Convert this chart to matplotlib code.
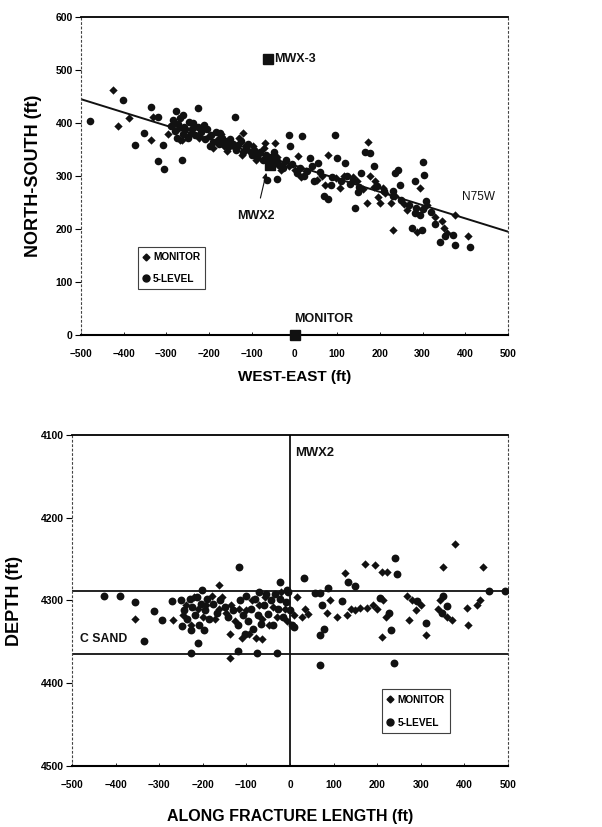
import matplotlib.pyplot as plt
from matplotlib.lines import Line2D

plt.rcParams['font.family'] = ['Liberation Sans', 'DejaVu Sans']

INK = '#111111'

# ---- top panel: plan view (ft) ----
plan_monitor_x = [-424, -413, -387, -331, -335, -268, -120, -69, -45, 9, 79, 107, 138, 169, 173, 185,
                  200, 208, 227, 231, 263, 286, 294, 349, 376, 407, 356, 212, 188,
                  -296, -282, -270, -264, -254, -244, -236, -224, -214, -200, -192, -180, -172, -166,
                  -158, -148, -140, -130, -124, -116, -106, -98, -90, -84, -72, -64, -56, -50, -40,
                  -32, -24, -12, 0, 14, 26, 52, 64, 72, 96, 116, 146, 160, 176, 196, 236, 256, 310,
                  330, 345]
plan_monitor_y = [462, 395, 409, 412, 368, 368, 381, 362, 363, 337, 340, 277, 299, 249, 365, 280,
                  249, 277, 250, 198, 236, 195, 277, 202, 227, 186, 192, 268, 290,
                  380, 398, 390, 368, 388, 380, 395, 372, 386, 375, 352, 370, 380, 356,
                  348, 362, 352, 372, 340, 356, 348, 356, 330, 342, 352, 332, 318, 328, 335,
                  312, 325, 318, 312, 298, 310, 292, 300, 284, 296, 300, 290, 276, 300, 260, 262, 248, 246,
                  222, 215]

plan_5level_x = [-480, -401, -337, -352, -374, -320, -320, -307, -305, -278, -264, -262, -237, -225,
                 -213, -198, -174, -139, -14, -11, 17, 95, 99, 85, 78, 68, 56, 36, 29, 118, 142, 149,
                 165, 177, 185, 231, 235, 243, 247, 282, 300, 303, 309, 282, 294, 298, 274, 329, 352,
                 372, 376, 411, 341, -65, -42,
                 -290, -285, -280, -276, -272, -268, -262, -258, -250, -246, -240, -232, -226, -218,
                 -210, -204, -196, -190, -184, -176, -170, -162, -156, -150, -144, -138, -132, -126,
                 -120, -114, -108, -100, -94, -88, -80, -74, -66, -60, -54, -48, -42, -36, -28, -20,
                 -5, 5, 12, 22, 40, 46, 60, 88, 110, 124, 130, 138, 150, 155, 192, 210, 230, 250, 268,
                 285, 300, 320]
plan_5level_y = [403, 444, 431, 381, 358, 411, 329, 358, 313, 423, 331, 415, 400, 428,
                 397, 356, 381, 411, 378, 356, 375, 378, 334, 283, 256, 263, 324, 334, 309, 324, 239, 269,
                 346, 343, 318, 271, 305, 312, 283, 290, 327, 302, 252, 230, 227, 198, 202, 210, 186,
                 189, 170, 166, 176, 293, 295,
                 395, 405, 385, 372, 398, 410, 380, 393, 372, 402, 388, 377, 392, 383,
                 370, 389, 378, 365, 384, 360, 372, 366, 355, 370, 361, 349, 358, 366,
                 345, 352, 360, 340, 350, 336, 346, 330, 340, 325, 335, 345, 328, 320, 315, 330,
                 322, 305, 315, 300, 318, 290, 308, 298, 290, 300, 285, 293, 280, 305, 282, 272, 262, 255, 245,
                 240, 238, 232]

trend_x = [-500, 500]
trend_y = [445, 195]

# ---- bottom panel: depth section ----
sec_monitor_x = [-356, -269, -164, -137, -137, -65, 126, 172, 195, 210, 222, 210, 268, 272, 312, 352,
                 379, 371, 405, 409, 443, 428, 436, 130, 161, 176, 107, 42,
                 -246, -238, -226, -220, -210, -200, -192, -180, -172, -164, -156, -146, -136, -126,
                 -118, -110, -102, -94, -88, -78, -72, -64, -58, -48, -38, -30, -20, -12, -6, 10, 16,
                 28, 34, 85, 92, 140, 150, 190, 200, 214, 220, 280, 290, 300, 340, 345, 360]
sec_monitor_d = [4322, 4324, 4281, 4340, 4369, 4346, 4267, 4256, 4257, 4265, 4266, 4344, 4295, 4324, 4342, 4259,
                 4232, 4324, 4309, 4330, 4259, 4305, 4299, 4318, 4309, 4309, 4320, 4316,
                 4318, 4305, 4330, 4296, 4310, 4320, 4305, 4295, 4322, 4310, 4296, 4315, 4305, 4325,
                 4310, 4345, 4312, 4340, 4300, 4345, 4306, 4322, 4296, 4330, 4308, 4320, 4290, 4310, 4325, 4318, 4296,
                 4320, 4310, 4315, 4300, 4310, 4312, 4305, 4310, 4300, 4320, 4300, 4312, 4305, 4310, 4300, 4320]

sec_5level_x = [-427, -389, -356, -336, -313, -294, -271, -248, -227, -212, -227, -202, -198, -118, -120,
                -76, -30, -23, -6, 8, 31, 58, 69, 73, 69, 78, 69, 88, 119, 134, 149, 207, 226, 231, 241,
                245, 239, 291, 311, 352, 359, 348, 457, 493,
                -250, -242, -236, -230, -224, -218, -214, -208, -204, -196, -190, -186, -176, -168,
                -160, -150, -142, -130, -120, -114, -108, -104, -100, -96, -90, -84, -80, -74, -70,
                -66, -60, -54, -50, -44, -40, -34, -28, -22, -16, -10, -4, 0, 4]
sec_5level_d = [4295, 4295, 4302, 4349, 4313, 4324, 4301, 4331, 4363, 4351, 4336, 4287, 4336, 4259, 4361,
                4363, 4363, 4278, 4287, 4332, 4273, 4291, 4291, 4305, 4342, 4334, 4378, 4285, 4301, 4278, 4283,
                4297, 4315, 4336, 4249, 4268, 4376, 4301, 4327, 4295, 4307, 4315, 4289, 4289,
                4300, 4312, 4322, 4298, 4308, 4318, 4296, 4330, 4304, 4312, 4298, 4322, 4304, 4315,
                4300, 4308, 4320, 4312, 4330, 4300, 4318, 4340, 4294, 4325, 4310, 4335, 4298, 4318, 4290,
                4328, 4305, 4292, 4316, 4300, 4330, 4292, 4310, 4298, 4320, 4302, 4290, 4312, 4330]

c_sand_top = 4289
c_sand_base = 4365

xticks = [-500, -400, -300, -200, -100, 0, 100, 200, 300, 400, 500]

fig = plt.figure(figsize=(6.02, 8.27), dpi=100)
ax1 = fig.add_axes([0.1346, 0.5949, 0.7093, 0.3845])
ax2 = fig.add_axes([0.1196, 0.0738, 0.7243, 0.4002])


def style_axes(ax):
    ax.spines['top'].set_linewidth(1.3)
    ax.spines['bottom'].set_linewidth(1.5)
    for s in ('left', 'right'):
        ax.spines[s].set_linestyle((0, (1.5, 2.5)))
        ax.spines[s].set_linewidth(0.8)
        ax.spines[s].set_color('#444444')
    ax.tick_params(axis='y', direction='out', length=4, width=0.8, pad=2, labelsize=7.5)
    ax.tick_params(axis='x', direction='in', length=2, width=0.6, pad=10, labelsize=7.2)
    ax.set_xticks(xticks)
    ax.set_xlim(-500, 500)
    for lab in ax.get_xticklabels() + ax.get_yticklabels():
        lab.set_fontweight('bold')


# ---- top ----
ax1.plot(trend_x, trend_y, color=INK, lw=1.4, zorder=2)
ax1.scatter(plan_5level_x, plan_5level_y, s=30, marker='o', color=INK, lw=0, zorder=3)
ax1.scatter(plan_monitor_x, plan_monitor_y, s=18, marker='D', color=INK, lw=0, zorder=3)
ax1.plot([-61], [521], 's', color=INK, ms=6.5)
ax1.plot([-57], [321], 's', color=INK, ms=6.5, zorder=4)
ax1.plot([0], [0], 's', color=INK, ms=7, clip_on=False, zorder=5)
ax1.text(-48, 521, 'MWX-3', fontsize=9, fontweight='bold', va='center', ha='left', color=INK)
ax1.text(67, 30, 'MONITOR', fontsize=9, fontweight='bold', va='center', ha='center', color=INK)
ax1.text(432, 261, 'N75W', fontsize=8.5, va='center', ha='center', color=INK)
ax1.annotate('MWX2', xy=(-66, 306), xytext=(-90, 224), fontsize=9, fontweight='bold',
             ha='center', va='center', color=INK,
             arrowprops=dict(arrowstyle='-|>', color=INK, lw=0.8, shrinkA=7, shrinkB=0,
                             mutation_scale=8))
ax1.set_ylim(0, 600)
ax1.set_yticks([0, 100, 200, 300, 400, 500, 600])
style_axes(ax1)
ax1.set_xlabel('WEST-EAST (ft)', fontsize=11, fontweight='bold', labelpad=8)
ax1.set_ylabel('NORTH-SOUTH (ft)', fontsize=13, fontweight='bold', labelpad=10)

handles = [Line2D([], [], marker='D', ls='', color=INK, ms=3.5),
           Line2D([], [], marker='o', ls='', color=INK, ms=5)]
leg1 = ax1.legend(handles, ['MONITOR', '5-LEVEL'], loc='lower left', bbox_to_anchor=(0.121, 0.13),
                  fancybox=False, frameon=True, handlelength=0.6, handletextpad=0.4,
                  labelspacing=1.1, borderpad=0.5, prop={'size': 7.3, 'weight': 'bold'})
leg1.get_frame().set_edgecolor(INK)
leg1.get_frame().set_linewidth(0.8)

# ---- bottom ----
ax2.axhline(c_sand_top, color=INK, lw=1.3, zorder=2)
ax2.axhline(c_sand_base, color=INK, lw=1.3, zorder=2)
ax2.axvline(0, color=INK, lw=1.3, zorder=2)
ax2.scatter(sec_5level_x, sec_5level_d, s=32, marker='o', color=INK, lw=0, zorder=3)
ax2.scatter(sec_monitor_x, sec_monitor_d, s=18, marker='D', color=INK, lw=0, zorder=3)
ax2.text(57, 4122, 'MWX2', fontsize=9.4, fontweight='bold', va='center', ha='center', color=INK)
ax2.text(-427, 4347, 'C SAND', fontsize=8.8, fontweight='bold', va='center', ha='center', color=INK)
ax2.set_ylim(4500, 4100)
ax2.set_yticks([4100, 4200, 4300, 4400, 4500])
style_axes(ax2)
ax2.set_xlabel('ALONG FRACTURE LENGTH (ft)', fontsize=11.5, fontweight='bold', labelpad=14)
ax2.set_ylabel('DEPTH (ft)', fontsize=13, fontweight='bold', labelpad=13)

leg2 = ax2.legend(handles, ['MONITOR', '5-LEVEL'], loc='lower left', bbox_to_anchor=(0.70, 0.085),
                  fancybox=False, frameon=True, handlelength=0.6, handletextpad=0.4,
                  labelspacing=1.3, borderpad=0.5, prop={'size': 7.3, 'weight': 'bold'})
leg2.get_frame().set_edgecolor(INK)
leg2.get_frame().set_linewidth(0.8)

fig.savefig('out.png', dpi=100, facecolor='white')
